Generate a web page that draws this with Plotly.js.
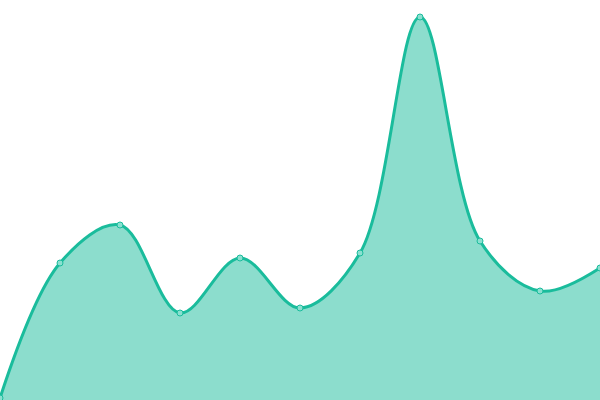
<!DOCTYPE html>
<html>
<head>
<meta charset="utf-8">
<script src="https://cdn.plot.ly/plotly-3.0.1.min.js"></script>
<style>
  html, body { margin: 0; padding: 0; background: #fff; }
  #myPlot { width: 600px; height: 400px; }
</style>
</head>
<body>
<div id="myPlot"></div>
<script>
let xs = [0, 1, 2, 3, 4, 5, 6, 7, 8, 9, 10];
let vals = [2, 137, 175, 87, 142, 92, 147, 383, 159, 109, 132];

var trace1 = {
  x: xs,
  y: vals,
  type: 'scatter',
  mode: 'lines+markers',
  fill: 'tozeroy',
  fillcolor: 'rgba(26,188,156,0.5)',
  line: { color: '#1abc9c', width: 3, shape: 'spline', smoothing: 1 },
  marker: { size: 6, color: '#8ae0d0', line: { color: '#1abc9c', width: 1 } },
  hoverinfo: 'none'
};

var layout = {
  width: 600,
  height: 400,
  margin: { l: 0, r: 0, t: 0, b: 0, pad: 0 },
  paper_bgcolor: '#fff',
  plot_bgcolor: '#fff',
  showlegend: false,
  xaxis: { range: [0, 10], visible: false, fixedrange: true },
  yaxis: { range: [0, 400], visible: false, fixedrange: true }
};

Plotly.newPlot("myPlot", [trace1], layout, { displayModeBar: false, staticPlot: true });
</script>
</body>
</html>
